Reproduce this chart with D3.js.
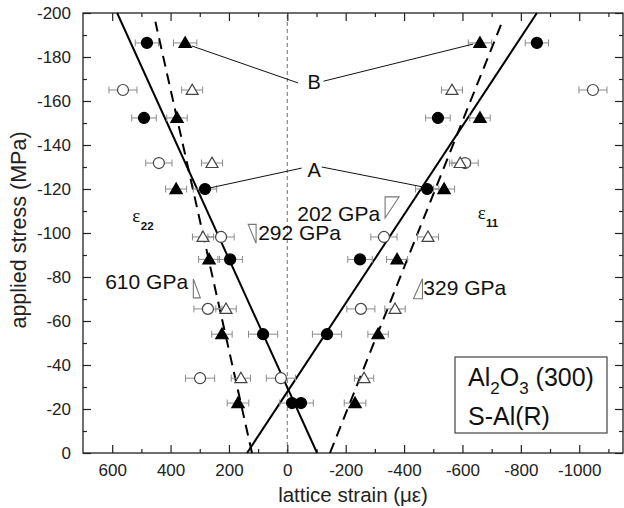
<!DOCTYPE html>
<html><head><meta charset="utf-8">
<script src="https://cdn.jsdelivr.net/npm/d3@7"></script>
<style>
body{margin:0;background:#fff;}
svg{display:block;font-family:Arial,"Liberation Sans",sans-serif;}
</style></head><body>
<svg id="chart" width="624" height="508"></svg>
<script>
// ---------- data (strain in micro-strain, stress in MPa) ----------
const stressFilled = [-186.4, -152.3, -120, -88, -54, -22.7];
const stressOpen   = [-165, -131.8, -98.2, -65.5, -34];

const filledCircle22 = [481, 491, 282, 196, 83, -16];
const filledCircle11 = [-855, -516, -479, -249, -136, -47];
const filledTri22    = [350, 378, 381, 268, 224, 169];
const filledTri11    = [-660, -660, -537, -376, -311, -232];
const openCircle22   = [563, 440, 227, 272, 299];
const openCircle11   = [-1047, -609, -331, -252, 22];
const openTri22      = [326, 258, 289, 210, 159];
const openTri11      = [-564, -592, -482, -369, -263];

const filledCircleErr = [40, 42, 40, 42, 50, 42];
const filledTriErr    = [40, 35, 36, 36, 35, 37];
const openCircleErr   = [48, 45, 45, 48, 50];
const openTriErr      = [36, 36, 36, 35, 33];

// fit lines: [strain, stress] end points
const fitSolid22  = [[-102, 0], [583, -200]];
const fitSolid11  = [[138, 0], [-855, -200]];
const fitDashed22 = [[121, 0], [452, -196]];
const fitDashed11 = [[-146, 0], [-736, -196]];

const xTicks = [600, 400, 200, 0, -200, -400, -600, -800, -1000];
const xMinor = [500, 300, 100, -100, -300, -500, -700, -900, -1100];
const yTicks = [0, -20, -40, -60, -80, -100, -120, -140, -160, -180, -200];
const yMinor = [-10, -30, -50, -70, -90, -110, -130, -150, -170, -190];

// modulus labels: text, anchor [strain, stress], triangle [strain, stress] vertices
const moduli = [
  {label: "202 GPa", at: [-34, -105.5], tri: [[-335, -116.4], [-383, -116.4], [-335, -106.8]]},
  {label: "292 GPa", at: [100, -96.8],  tri: [[134, -103.9], [107, -103.9], [107, -95.3]]},
  {label: "610 GPa", at: [624, -74.4],  tri: [[322, -79.1], [322, -70.5], [298, -70.5]]},
  {label: "329 GPa", at: [-466, -71.8], tri: [[-463, -79.2], [-463, -70.1], [-432, -70.1]]}
];
// A / B callouts: label position and leader lines [[strain,stress],[strain,stress]]
const callouts = [
  {label: "B", at: [-92, -165.5], lines: [[[-37, -168.2], [327, -185]], [[-124, -169], [-637, -185.9]]]},
  {label: "A", at: [-92, -125.5], lines: [[[-49, -129.5], [265, -120.5]], [[-118, -130], [-466, -120.9]]]}
];
const strainLabels = [
  {main: "ε", sub: "22", at: [531, -104.8]},
  {main: "ε", sub: "11", at: [-652, -106.2]}
];
const legendLines = ["Al2O3 (300)", "S-Al(R)"];

// ---------- chart ----------
const svg = d3.select("#chart");
const L = 83, R = 623, T = 13, B = 453;
const x = d3.scaleLinear().domain([700, -1150]).range([L, R]);
const y = d3.scaleLinear().domain([0, -200]).range([B, T]);
const fmt = d => String(d);

// zero line
svg.append("line")
  .attr("x1", x(0)).attr("x2", x(0)).attr("y1", y(0)).attr("y2", y(-200))
  .attr("stroke", "#888").attr("stroke-width", 1.2).attr("stroke-dasharray", "4,3");

// axes
function styleAxis(g) {
  g.select(".domain").remove();
  g.selectAll(".tick line").attr("stroke", "#222").attr("stroke-width", 1.2);
  g.selectAll(".tick text").attr("font-size", 17).attr("fill", "#222")
    .attr("font-family", "Arial, 'Liberation Sans', sans-serif");
}
svg.append("g").attr("transform", `translate(0,${B})`)
  .call(d3.axisBottom(x).tickValues(xTicks).tickSize(-8).tickSizeOuter(0).tickPadding(11).tickFormat(fmt)).call(styleAxis);
svg.append("g").attr("transform", `translate(0,${B})`)
  .call(d3.axisBottom(x).tickValues(xMinor).tickSize(-4).tickSizeOuter(0).tickFormat("")).call(styleAxis);
svg.append("g").attr("transform", `translate(0,${T})`)
  .call(d3.axisTop(x).tickValues(xTicks).tickSize(-8).tickSizeOuter(0).tickFormat("")).call(styleAxis);
svg.append("g").attr("transform", `translate(0,${T})`)
  .call(d3.axisTop(x).tickValues(xMinor).tickSize(-4).tickSizeOuter(0).tickFormat("")).call(styleAxis);
svg.append("g").attr("transform", `translate(${L},0)`)
  .call(d3.axisLeft(y).tickValues(yTicks).tickSize(-8).tickSizeOuter(0).tickPadding(12).tickFormat(fmt)).call(styleAxis);
svg.append("g").attr("transform", `translate(${L},0)`)
  .call(d3.axisLeft(y).tickValues(yMinor).tickSize(-4).tickSizeOuter(0).tickFormat("")).call(styleAxis);
svg.append("g").attr("transform", `translate(${R},0)`)
  .call(d3.axisRight(y).tickValues(yTicks).tickSize(-8).tickSizeOuter(0).tickFormat("")).call(styleAxis);
svg.append("g").attr("transform", `translate(${R},0)`)
  .call(d3.axisRight(y).tickValues(yMinor).tickSize(-4).tickSizeOuter(0).tickFormat("")).call(styleAxis);

svg.append("rect").attr("x", L).attr("y", T).attr("width", R - L).attr("height", B - T)
  .attr("fill", "none").attr("stroke", "#222").attr("stroke-width", 1.3);

// axis titles
svg.append("text").attr("x", (L + R) / 2).attr("y", 502).attr("text-anchor", "middle")
  .attr("font-size", 20.5).attr("fill", "#222").text("lattice strain (με)");
svg.append("text").attr("transform", `translate(26,230) rotate(-90)`).attr("text-anchor", "middle")
  .attr("font-size", 21.5).attr("fill", "#222").text("applied stress (MPa)");

// fit lines
const lineGen = d3.line().x(d => x(d[0])).y(d => y(d[1]));
[fitSolid22, fitSolid11].forEach(f => svg.append("path").attr("d", lineGen(f))
  .attr("fill", "none").attr("stroke", "#000").attr("stroke-width", 2));
[fitDashed22, fitDashed11].forEach(f => svg.append("path").attr("d", lineGen(f))
  .attr("fill", "none").attr("stroke", "#000").attr("stroke-width", 2).attr("stroke-dasharray", "11,7"));

// series
const series = [
  {vals: openCircle22, stress: stressOpen, err: openCircleErr, type: d3.symbolCircle, size: 95, fill: "#fff", stroke: "#444"},
  {vals: openCircle11, stress: stressOpen, err: openCircleErr, type: d3.symbolCircle, size: 95, fill: "#fff", stroke: "#444"},
  {vals: openTri22, stress: stressOpen, err: openTriErr, type: d3.symbolTriangle, size: 62, fill: "#fff", stroke: "#444"},
  {vals: openTri11, stress: stressOpen, err: openTriErr, type: d3.symbolTriangle, size: 62, fill: "#fff", stroke: "#444"},
  {vals: filledCircle22, stress: stressFilled, err: filledCircleErr, type: d3.symbolCircle, size: 95, fill: "#000", stroke: "#000"},
  {vals: filledCircle11, stress: stressFilled, err: filledCircleErr, type: d3.symbolCircle, size: 95, fill: "#000", stroke: "#000"},
  {vals: filledTri22, stress: stressFilled, err: filledTriErr, type: d3.symbolTriangle, size: 66, fill: "#000", stroke: "#000"},
  {vals: filledTri11, stress: stressFilled, err: filledTriErr, type: d3.symbolTriangle, size: 66, fill: "#000", stroke: "#000"}
];
const errG = svg.append("g").attr("stroke", "#8a8a8a").attr("stroke-width", 1);
series.forEach(s => {
  s.vals.forEach((v, i) => {
    const yy = y(s.stress[i]), x1 = x(v + s.err[i]), x2 = x(v - s.err[i]);
    errG.append("line").attr("x1", x1).attr("x2", x2).attr("y1", yy).attr("y2", yy);
    errG.append("line").attr("x1", x1).attr("x2", x1).attr("y1", yy - 3.5).attr("y2", yy + 3.5);
    errG.append("line").attr("x1", x2).attr("x2", x2).attr("y1", yy - 3.5).attr("y2", yy + 3.5);
  });
});
series.forEach(s => {
  const sym = d3.symbol().type(s.type).size(s.size);
  s.vals.forEach((v, i) => {
    svg.append("path").attr("d", sym())
      .attr("transform", `translate(${x(v)},${y(s.stress[i]) + (s.type === d3.symbolTriangle ? 1 : 0)})`)
      .attr("fill", s.fill).attr("stroke", s.stroke).attr("stroke-width", 1.2);
  });
});

// callouts A / B
callouts.forEach(c => {
  c.lines.forEach(l => svg.append("path").attr("d", lineGen(l)).attr("stroke", "#111").attr("stroke-width", 1).attr("fill", "none"));
  svg.append("text").attr("x", x(c.at[0])).attr("y", y(c.at[1])).attr("text-anchor", "middle")
    .attr("font-size", 20).attr("fill", "#111").text(c.label);
});

// modulus labels and slope triangles
moduli.forEach(m => {
  svg.append("text").attr("x", x(m.at[0])).attr("y", y(m.at[1]))
    .attr("font-size", 21).attr("fill", "#111").text(m.label);
  svg.append("path").attr("d", lineGen(m.tri) + "Z")
    .attr("fill", "none").attr("stroke", "#777").attr("stroke-width", 1.1);
});

// strain component labels
strainLabels.forEach(s => {
  const t = svg.append("text").attr("x", x(s.at[0])).attr("y", y(s.at[1])).attr("fill", "#111");
  t.append("tspan").attr("font-family", "'Liberation Serif','DejaVu Serif',serif").attr("font-size", 19).text(s.main);
  t.append("tspan").attr("font-size", 11.5).attr("font-weight", "bold").attr("dy", 8).attr("dx", 0.5).text(s.sub);
});

// legend box
const lg = svg.append("g");
lg.append("rect").attr("x", 455).attr("y", 357).attr("width", 152).attr("height", 76)
  .attr("fill", "#fff").attr("stroke", "#444").attr("stroke-width", 1.2);
const t1 = lg.append("text").attr("x", 468).attr("y", 386).attr("font-size", 25).attr("fill", "#111");
const m = legendLines[0].match(/^(Al)(2)(O)(3)(.*)$/);
t1.append("tspan").text(m[1]);
t1.append("tspan").attr("font-size", 17).attr("dy", 8).text(m[2]);
t1.append("tspan").attr("dy", -8).text(m[3]);
t1.append("tspan").attr("font-size", 17).attr("dy", 8).text(m[4]);
t1.append("tspan").attr("dy", -8).text(m[5]);
lg.append("text").attr("x", 468).attr("y", 425).attr("font-size", 25).attr("fill", "#111").text(legendLines[1]);
</script>
</body></html>
